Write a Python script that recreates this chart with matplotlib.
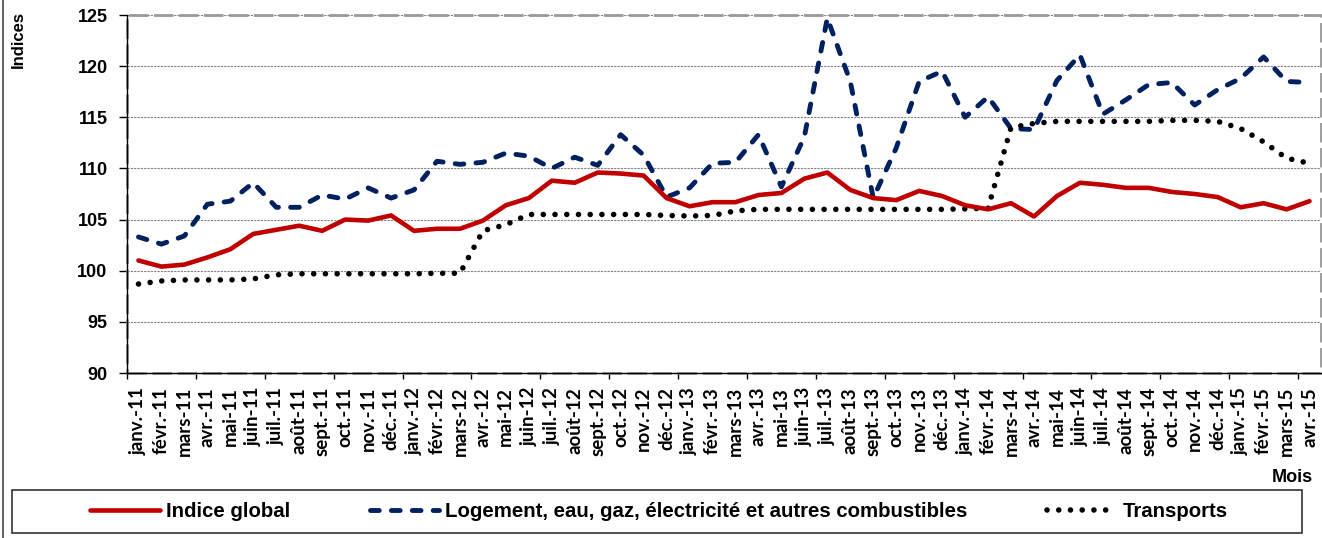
import matplotlib
matplotlib.use("Agg")
import matplotlib.pyplot as plt
from matplotlib.patches import Rectangle
from matplotlib.lines import Line2D

# Monthly labels, janv.-11 .. avr.-15
month_names = ['janv.', 'févr.', 'mars', 'avr.', 'mai', 'juin',
               'juil.', 'août', 'sept.', 'oct.', 'nov.', 'déc.']
months = [f"{m}-{y}" for y in ['11', '12', '13', '14'] for m in month_names]
months += ['janv.-15', 'févr.-15', 'mars-15', 'avr.-15']

indice_global = [101.0, 100.4, 100.6, 101.3, 102.1, 103.6, 104.0, 104.4, 103.9, 105.0, 104.9, 105.4,
                 103.9, 104.1, 104.1, 104.9, 106.4, 107.1, 108.8, 108.6, 109.6, 109.5, 109.3, 107.1,
                 106.3, 106.7, 106.7, 107.4, 107.6, 109.0, 109.6, 107.9, 107.1, 106.9, 107.8, 107.3,
                 106.4, 106.0, 106.6, 105.3, 107.3, 108.6, 108.4, 108.1, 108.1, 107.7, 107.5, 107.2,
                 106.2, 106.6, 106.0, 106.8]

logement = [103.3, 102.6, 103.4, 106.5, 106.8, 108.6, 106.2, 106.2, 107.4, 107.0, 108.1, 107.1,
            107.9, 110.7, 110.4, 110.6, 111.5, 111.2, 110.0, 111.1, 110.3, 113.3, 111.3, 107.2,
            108.1, 110.5, 110.6, 113.3, 108.2, 113.1, 124.7, 118.5, 107.1, 112.0, 118.5, 119.5,
            115.0, 117.0, 113.9, 113.8, 118.6, 121.1, 115.3, 116.7, 118.2, 118.4, 116.2, 117.7,
            118.8, 120.9, 118.5, 118.4]

transports = [98.7, 99.0, 99.1, 99.1, 99.1, 99.2, 99.6, 99.7, 99.7, 99.7, 99.7, 99.7,
              99.7, 99.75, 99.75, 103.9, 104.5, 105.5, 105.5, 105.5, 105.5, 105.5, 105.5, 105.4,
              105.35, 105.4, 105.85, 106.0, 106.0, 106.0, 106.0, 106.0, 106.0, 106.0, 106.0, 106.0,
              106.05, 106.1, 114.0, 114.4, 114.6, 114.6, 114.6, 114.6, 114.6, 114.7, 114.7, 114.6,
              113.9, 112.6, 111.0, 110.5]

y_ticks = [90, 95, 100, 105, 110, 115, 120, 125]

W, H = 1322, 538
fig = plt.figure(figsize=(W / 100, H / 100), dpi=100)
ax = fig.add_axes([127 / W, 1 - 373 / H, (1321 - 127) / W, (373 - 15) / H])

x = list(range(len(months)))
ax.plot(x, indice_global, color='#C00000', lw=3.3, solid_capstyle='round',
        solid_joinstyle='round', label='Indice global', zorder=4)
ax.plot(x, logement, color='#002060', lw=3.5, ls=(0, (1.8, 2.5)), dash_capstyle='round',
        label='Logement, eau, gaz, électricité et autres combustibles', zorder=3)
ax.plot(x, transports, color='black', lw=4, ls=(0, (0.01, 2.1)), dash_capstyle='round',
        label='Transports', zorder=3)

ax.set_xlim(-0.5, len(months) - 0.5)
ax.set_ylim(90, 125)

# y axis
ax.set_yticks(y_ticks)
ax.yaxis.grid(True, color='#808080', ls=(0, (2, 1)), lw=0.8)
ax.set_axisbelow(True)
ax.tick_params(axis='y', direction='out', length=6, width=1, pad=8)
for lab in ax.get_yticklabels():
    lab.set_fontfamily(['Liberation Sans', 'DejaVu Sans'])
    lab.set_fontweight('bold')
    lab.set_fontsize(13)

# x axis: labels at every month, tick marks at every 3rd boundary
ax.set_xticks(x)
ax.set_xticklabels(months, rotation=90, fontsize=13.5, fontweight='bold',
                   family=['Lato', 'DejaVu Sans'])
ax.tick_params(axis='x', which='major', length=0, pad=10)
ax.set_xticks([b - 0.5 for b in range(0, len(months), 3)], minor=True)
ax.tick_params(axis='x', which='minor', direction='out', length=4, width=1)

# plot area border (dashed gray) plus black axis lines
for s in ['top', 'right']:
    ax.spines[s].set_visible(False)
ax.spines['left'].set_color('black')
ax.spines['bottom'].set_color('black')
ax.spines['left'].set_linewidth(1)
ax.spines['bottom'].set_linewidth(1)
ax.add_patch(Rectangle((0, 0), 1, 1, transform=ax.transAxes, fill=False,
                       ec='#999999', lw=2, ls=(0, (7, 2)), clip_on=False, zorder=1))

fig.text(18 / W, 1 - 39 / H, 'Indices', rotation=90, ha='center', va='center',
         fontsize=12, fontweight='bold', family=['Liberation Sans', 'DejaVu Sans'])
fig.text(1313 / W, 1 - 477 / H, 'Mois', ha='right', va='center',
         fontsize=13, fontweight='bold', family=['Liberation Sans', 'DejaVu Sans'])

# legend box and legend
fig.patches.append(Rectangle((12 / W, 1 - 533 / H), 1290 / W, 43 / H,
                             transform=fig.transFigure, fill=False, ec='#333333', lw=1.2))
fig.legend(loc='center', bbox_to_anchor=(659 / W, 1 - 511.5 / H), ncol=3, frameon=False,
           handlelength=3.4, handletextpad=0.3, columnspacing=3.9,
           prop={'family': ['Liberation Sans', 'DejaVu Sans'], 'weight': 'bold', 'size': 14.7})

# chart area left border
fig.add_artist(Line2D([3 / W, 3 / W], [0, 1], transform=fig.transFigure,
                      color='#666666', lw=1.5))

fig.savefig('out.png', dpi=100)
